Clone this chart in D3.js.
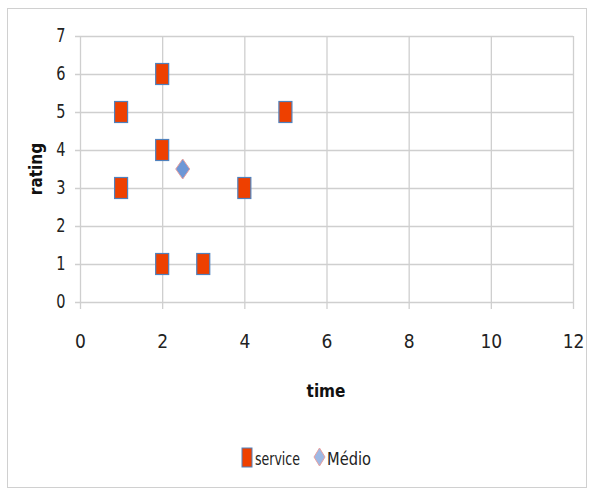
<!DOCTYPE html>
<html><head><meta charset="utf-8">
<script src="https://cdn.jsdelivr.net/npm/d3@7"></script>
<style>body{margin:0;background:#fff}svg{display:block}text{font-family:"DejaVu Sans Condensed","DejaVu Sans",sans-serif;font-stretch:condensed}</style>
</head><body><svg id="c" width="595" height="492"></svg>
<script>
const serviceX = [1, 1, 2, 2, 2, 3, 4, 5];
const serviceY = [5, 3, 6, 4, 1, 1, 3, 5];
const medioX = [2.5];
const medioY = [3.5];
const xTicks = [0, 2, 4, 6, 8, 10, 12];
const yTicks = [0, 1, 2, 3, 4, 5, 6, 7];
const seriesNames = ["service", "Médio"];

const svg = d3.select("#c");
svg.append("rect").attr("x", 7.5).attr("y", 8.5).attr("width", 579).attr("height", 479)
  .attr("fill", "#fff").attr("stroke", "#d0d0d0");

const x = d3.scaleLinear().domain([0, 12]).range([80, 573]);
const y = d3.scaleLinear().domain([0, 7]).range([302, 36]);
const grid = "#cfcfcf";

const yAxis = d3.axisLeft(y).tickValues(yTicks).tickFormat(d3.format("d")).tickSize(-(573 - 80)).tickSizeOuter(0);
const gy = svg.append("g").attr("transform", "translate(80,0)").call(yAxis);
gy.select(".domain").remove();
gy.selectAll(".tick line").attr("stroke", grid).attr("stroke-width", 1.3).attr("x1", -5);
gy.selectAll(".tick text").attr("font-size", 19).attr("fill", "#222").attr("x", -17)
  .attr("transform", "scale(0.85,1.05)").attr("dy", "0.3em");

const xAxis = d3.axisBottom(x).tickValues(xTicks).tickFormat(d3.format("d")).tickSize(-(302 - 36)).tickSizeOuter(0);
const gx = svg.append("g").attr("transform", "translate(0,302)").call(xAxis);
gx.select(".domain").remove();
gx.selectAll(".tick line").attr("stroke", grid).attr("stroke-width", 1.3).attr("y1", 7);
gx.selectAll(".tick text").attr("font-size", 19).attr("fill", "#222").attr("y", 46).attr("dy", 0).attr("x", 0);

svg.append("text").attr("x", 326).attr("y", 397).attr("text-anchor", "middle")
  .attr("font-size", 17).attr("font-weight", "bold").attr("fill", "#111").text("time");
svg.append("text").attr("transform", "translate(42,169) rotate(-90)").attr("text-anchor", "middle")
  .attr("font-size", 17).attr("font-weight", "bold").attr("fill", "#111").text("rating");

const sqW = 13, sqH = 21;
const orange = "#EE4000", blueEdge = "#4F81BD";
svg.append("g").selectAll("rect").data(serviceX.map((d, i) => [d, serviceY[i]])).join("rect")
  .attr("x", d => x(d[0]) - sqW / 2).attr("y", d => y(d[1]) - sqH / 2)
  .attr("width", sqW).attr("height", sqH)
  .attr("fill", orange).attr("stroke", blueEdge).attr("stroke-width", 1.2);

const diamond = (cx, cy, w, h) => `M${cx},${cy - h / 2}L${cx + w / 2},${cy}L${cx},${cy + h / 2}L${cx - w / 2},${cy}Z`;
svg.append("g").selectAll("path").data(medioX.map((d, i) => [d, medioY[i]])).join("path")
  .attr("d", d => diamond(x(d[0]), y(d[1]), 14, 20))
  .attr("fill", "#6E97D6").attr("stroke", "#E8A0A0").attr("stroke-width", 1);

const lg = svg.append("g");
lg.append("rect").attr("x", 242).attr("y", 448).attr("width", 10).attr("height", 19)
  .attr("fill", orange).attr("stroke", blueEdge).attr("stroke-width", 1);
lg.append("text").attr("x", 255).attr("y", 465).attr("font-size", 18).attr("fill", "#222")
  .attr("textLength", 45).attr("lengthAdjust", "spacingAndGlyphs").text(seriesNames[0]);
lg.append("path").attr("d", diamond(319.5, 457, 11, 18))
  .attr("fill", "#9DB8E4").attr("stroke", "#E8A0A0").attr("stroke-width", 1);
lg.append("text").attr("x", 327).attr("y", 465).attr("font-size", 18).attr("fill", "#222")
  .attr("textLength", 44).attr("lengthAdjust", "spacingAndGlyphs").text(seriesNames[1]);
</script></body></html>
